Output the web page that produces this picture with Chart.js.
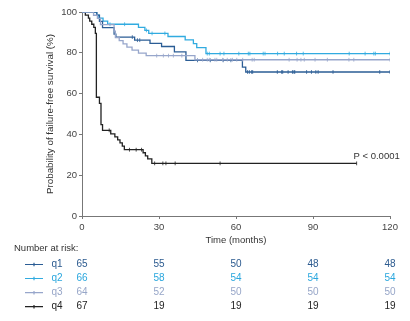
<!DOCTYPE html>
<html>
<head>
<meta charset="utf-8">
<script src="https://cdn.jsdelivr.net/npm/chart.js@4"></script>
<style>
  html, body { margin: 0; padding: 0; background: #fff; }
  #wrap { width: 410px; height: 321px; position: relative; }
</style>
</head>
<body>
<div id="wrap"><canvas id="c" width="410" height="321"></canvas></div>
<script>
// ---- data ----
const seriesNames = ['q1', 'q2', 'q3', 'q4'];
const xTicks = [0, 30, 60, 90, 120];
const yTicks = [0, 20, 40, 60, 80, 100];

// event times (months) and survival (%) just after each drop
const q1Times = [5.8, 6.8, 8.0, 12.5, 13.2, 20.5, 26.5, 31.0, 36.0, 40.5, 62.5, 63.8];
const q1Surv  = [98.5, 95.4, 92.3, 89.2, 87.7, 86.2, 84.6, 83.1, 80.5, 76.3, 73.0, 70.6];
const q1End = 120;
const q1Censor = [19.6, 21.6, 22.5, 45, 50, 55, 58, 64.5, 65.2, 66.1, 66.5, 76.1, 77.8, 78.2, 80.3, 82.0, 82.6, 82.9, 87.5, 89.4, 91.1, 92.0, 97.8, 116.0, 120];

const q2Times = [5.7, 6.6, 8.2, 10.0, 22.0, 24.5, 26.0, 33.5, 40.2, 43.4, 44.7, 48.3];
const q2Surv  = [98.5, 97.0, 95.5, 94.0, 92.5, 91.0, 89.5, 88.0, 86.3, 84.5, 82.5, 79.6];
const q2End = 120;
const q2Censor = [10.9, 16.6, 25.1, 27.3, 32.3, 48.8, 49.6, 53.8, 55.3, 61.1, 64.8, 65.4, 70.6, 71.3, 76.2, 78.8, 83.6, 86.2, 104.1, 110.3, 113.7, 114.3, 120];

const q3Times = [4.5, 6.0, 7.2, 12.5, 13.0, 14.5, 16.0, 17.5, 19.5, 22.0, 25.0, 44.0];
const q3Surv  = [98.4, 96.9, 93.8, 90.6, 87.5, 86.0, 84.4, 82.8, 81.3, 79.8, 78.6, 76.6];
const q3End = 120;
const q3Censor = [29.1, 31.7, 33.7, 35.6, 38.9, 47.0, 48.8, 49.6, 51.8, 52.5, 54.8, 56.6, 58.6, 60.3, 62.6, 66.3, 67.1, 80.7, 83.8, 85.3, 86.6, 90.8, 95.6, 104.0, 105.9, 120];

const q4Times = [1.3, 2.5, 3.0, 3.8, 4.6, 5.2, 5.6, 6.8, 7.4, 8.0, 11.2, 12.8, 13.9, 14.8, 15.7, 16.5, 23.8, 24.7, 25.6, 27.2];
const q4Surv  = [98.5, 97.0, 95.5, 94.0, 92.5, 89.5, 58.2, 55.2, 44.8, 42.0, 40.3, 38.8, 37.3, 35.8, 34.3, 32.5, 31.0, 29.5, 28.0, 25.8];
const q4End = 107;
const q4Censor = [10.6, 18.5, 21.1, 23.2, 28.3, 31.5, 32.7, 36.3, 53.8, 107];

// number at risk at 0, 30, 60, 90, 120
const q1Risk = [65, 55, 50, 48, 48];
const q2Risk = [66, 58, 54, 54, 54];
const q3Risk = [64, 52, 50, 50, 50];
const q4Risk = [67, 19, 19, 19, 19];

const pText = 'P < 0.0001';
const pAt = [107, 28.5];

// ---- styles ----
const colors = ['#2b5d95', '#31abe0', '#97a6cb', '#222222'];
const riskColors = ['#2b5a8f', '#2aa7de', '#97a6c8', '#222222'];
const FONT = '"Liberation Sans", Arial, sans-serif';

function kmPoints(times, surv, end) {
  const pts = [{x: 0, y: 100}];
  for (let i = 0; i < times.length; i++) pts.push({x: times[i], y: surv[i]});
  pts.push({x: end, y: surv[surv.length - 1]});
  return pts;
}
function survAt(times, surv, t) {
  let s = 100;
  for (let i = 0; i < times.length; i++) if (times[i] <= t) s = surv[i];
  return s;
}
function censorPoints(times, surv, cens) {
  return cens.map(t => ({x: t, y: survAt(times, surv, t)}));
}

const all = [
  [q1Times, q1Surv, q1End, q1Censor],
  [q2Times, q2Surv, q2End, q2Censor],
  [q3Times, q3Surv, q3End, q3Censor],
  [q4Times, q4Surv, q4End, q4Censor],
];
const risks = [q1Risk, q2Risk, q3Risk, q4Risk];

const datasets = [];
[2, 0, 1, 3].forEach(i => {
  const [t, s, e, c] = all[i];
  datasets.push({
    label: seriesNames[i],
    data: kmPoints(t, s, e),
    borderColor: colors[i],
    borderWidth: 1.3,
    stepped: 'before',
    pointRadius: 0,
    fill: false,
  });
  datasets.push({
    label: seriesNames[i] + ' censored',
    data: censorPoints(t, s, c),
    showLine: false,
    pointStyle: 'line',
    rotation: 90,
    pointRadius: 1.9,
    borderColor: colors[i],
    borderWidth: 0.8,
    backgroundColor: colors[i],
  });
});

const extras = {
  id: 'extras',
  afterDraw(chart) {
    const ctx = chart.ctx;
    const xs = chart.scales.x, ys = chart.scales.y;
    const area = chart.chartArea;
    ctx.save();
    ctx.fillStyle = '#333';
    ctx.font = '9.8px ' + FONT;
    ctx.textAlign = 'center';
    ctx.textBaseline = 'middle';
    ctx.save();
    ctx.translate(50, (area.top + area.bottom) / 2);
    ctx.rotate(-Math.PI / 2);
    ctx.fillText('Probability of failure-free survival (%)', 0, 0);
    ctx.restore();
    ctx.font = '9.5px ' + FONT;
    ctx.fillText('Time (months)', (area.left + area.right) / 2, 240);
    ctx.fillText(pText, xs.getPixelForValue(pAt[0]) + 20, ys.getPixelForValue(pAt[1]) - 1);
    ctx.textAlign = 'left';
    ctx.fillText('Number at risk:', 14, 248.5);
    const rowY = [264.5, 278.5, 292.7, 306.7];
    for (let i = 0; i < 4; i++) {
      const y = rowY[i];
      ctx.strokeStyle = colors[i];
      ctx.lineWidth = 1.2;
      ctx.beginPath();
      ctx.moveTo(25, y); ctx.lineTo(43, y);
      ctx.moveTo(34, y - 1.8); ctx.lineTo(34, y + 1.8);
      ctx.stroke();
      ctx.fillStyle = riskColors[i];
      ctx.font = '10px ' + FONT;
      ctx.textAlign = 'left';
      ctx.fillText(seriesNames[i], 51.5, y);
      ctx.textAlign = 'center';
      for (let j = 0; j < xTicks.length; j++) {
        ctx.fillText(String(risks[i][j]), xs.getPixelForValue(xTicks[j]), y);
      }
    }
    ctx.restore();
  }
};

new Chart(document.getElementById('c'), {
  type: 'line',
  data: { datasets },
  options: {
    responsive: false,
    animation: false,
    devicePixelRatio: 1,
    layout: { padding: { top: 12, right: 20, left: 0, bottom: 0 } },
    plugins: { legend: { display: false }, tooltip: { enabled: false } },
    scales: {
      x: {
        type: 'linear',
        min: 0, max: 120,
        afterBuildTicks: (s) => { s.ticks = xTicks.map(v => ({value: v})); },
        afterFit: (s) => { s.height = 105; },
        grid: { display: true, drawOnChartArea: false, drawTicks: true, tickLength: 3, color: '#777' },
        border: { display: true, color: '#777', width: 1 },
        ticks: { color: '#444', font: { family: FONT, size: 9.5 }, padding: 3, maxRotation: 0 },
      },
      y: {
        type: 'linear',
        min: 0, max: 100,
        afterBuildTicks: (s) => { s.ticks = yTicks.map(v => ({value: v})); },
        afterFit: (s) => { s.width = 82; },
        grid: { display: true, drawOnChartArea: false, drawTicks: true, tickLength: 3, color: '#777' },
        border: { display: true, color: '#777', width: 1 },
        ticks: { color: '#444', font: { family: FONT, size: 9.5 }, padding: 2 },
      }
    }
  },
  plugins: [extras]
});
</script>
</body>
</html>
